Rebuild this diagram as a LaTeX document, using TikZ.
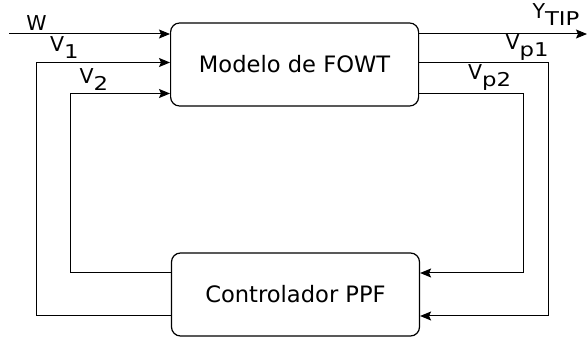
\documentclass[tikz,border=0pt]{standalone}
\usepackage{fontspec}
\setmainfont{DejaVu Sans}
\usetikzlibrary{arrows.meta}

% etiqueta con subindice
\newcommand{\sublbl}[2]{#1\raisebox{-7pt}{\scalebox{1.2}[1]{\fontsize{19}{19}\selectfont #2}}}

\begin{document}
\begin{tikzpicture}[
        x=1pt, y=-1pt,
        font=\fontsize{20.5}{24}\selectfont,
        line width=1pt,
        >={Stealth[length=11pt,width=9pt,inset=2pt]},
        bloque/.style={draw, line width=1.2pt, rounded corners=9pt,
            minimum width=248pt, minimum height=83pt, inner sep=0pt,
            font=\fontsize{22.6}{26}\selectfont},
        etiqueta/.style={anchor=base west, inner sep=0pt}
    ]

    \useasboundingbox (0,0) rectangle (587,339);

    % --- Bloques ---
    \node[bloque] (modelo) at (294.6,64.5) {Modelo de FOWT};
    \node[bloque] (ppf) at (295.5,294.5) {Controlador PPF};

    % --- Puntos de paso ---
    \coordinate (w) at (9,34);
    \coordinate (y) at (587,34);
    \coordinate (izqa) at (36,0);
    \coordinate (izqb) at (70,0);
    \coordinate (dera) at (548,0);
    \coordinate (derb) at (523,0);
    \coordinate (nv1) at (0,62.5);
    \coordinate (nv2) at (0,93.5);
    \coordinate (nc1) at (0,316);
    \coordinate (nc2) at (0,273);

    % --- Entrada W y salida Y ---
    \draw[->] (w) -- (w -| modelo.west);
    \draw[->] (modelo.east |- w) -- (y);

    % --- Realimentacion hacia el modelo (V1, V2) ---
    \draw[->] (ppf.west |- nc1) -- (izqa |- nc1) -- (izqa |- nv1) -- (modelo.west |- nv1);
    \draw[->] (ppf.west |- nc2) -- (izqb |- nc2) -- (izqb |- nv2) -- (modelo.west |- nv2);

    % --- Medidas hacia el controlador (Vp1, Vp2) ---
    \draw[->] (modelo.east |- nv1) -- (dera |- nv1) -- (dera |- nc1) -- (ppf.east |- nc1);
    \draw[->] (modelo.east |- nv2) -- (derb |- nv2) -- (derb |- nc2) -- (ppf.east |- nc2);

    % --- Etiquetas ---
    \node[etiqueta] (lw) at (26,30.5) {W};
    \node[etiqueta] (lv1) at (49.5,51.7) {\sublbl{V}{1}};
    \node[etiqueta] (lv2) at (79,84) {\sublbl{V}{2}};
    \node[etiqueta] (ly) at (532,18.5) {\sublbl{Y}{TIP}};
    \node[etiqueta] (lvp1) at (505,50) {\sublbl{V}{p1}};
    \node[etiqueta] (lvp2) at (467.5,80) {\sublbl{V}{p2}};

\end{tikzpicture}
\end{document}
